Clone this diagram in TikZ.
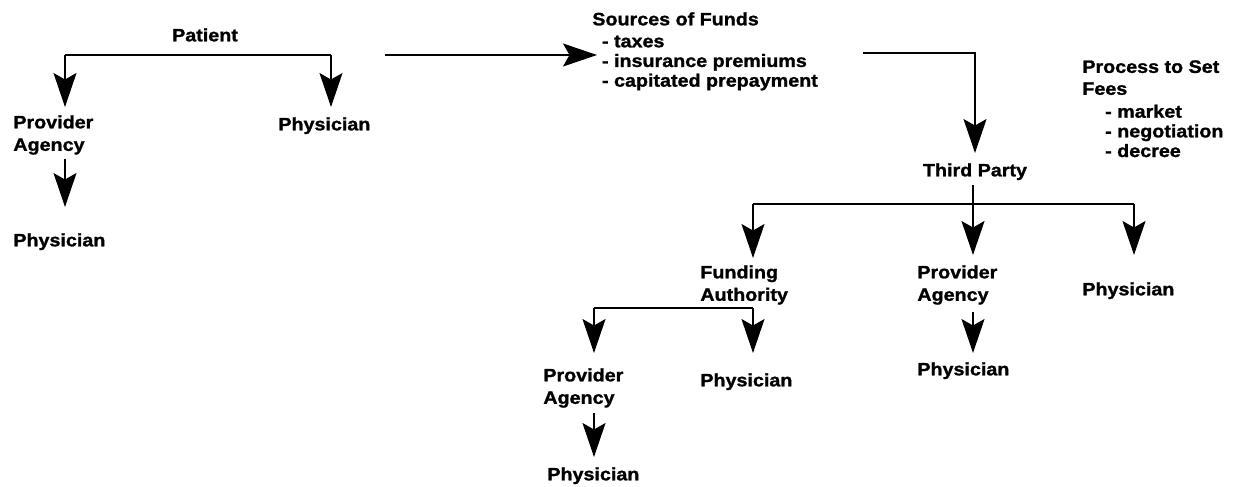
\documentclass[tikz,border=0pt]{standalone}
\usepackage{fontspec}
\newfontfamily\lblfont[FakeStretch=1.1, FakeBold=1.3]{Liberation Sans Bold}
\usetikzlibrary{arrows.meta}
\begin{document}
\begin{tikzpicture}[x=0.02cm, y=-0.02cm,
    every node/.style={font=\lblfont\fontsize{10.2}{12.8}\selectfont, inner sep=0pt, align=left},
    lbl/.style={anchor=north west},
    list/.style={anchor=north west, font=\lblfont\fontsize{10.2}{11.2}\selectfont},
    ln/.style={line width=0.9pt},
    arr/.style={ln, -{Stealth[length=0.68cm, width=0.46cm, inset=0.13cm]}, shorten >=0.2cm}]
    \useasboundingbox (0,0) rectangle (1238,487);
    % Patient
    \node[anchor=north] (patient) at (205,28) {Patient};
    \node[lbl] (pa1) at (13,115) {Provider\\Agency};
    \node[lbl] (ph1) at (13,233) {Physician};
    \node[lbl] (ph2) at (278,117) {Physician};
    \coordinate (b1) at (65,55);
    \coordinate (b2) at (331,55);
    \draw[ln] (b1) -- (b2);
    \draw[arr, shorten >=0.16cm] (b1) -- (b1 |- pa1.north);
    \draw[arr] (b2) -- (b2 |- ph2.north);
    \draw[arr, shorten <=0.08cm, shorten >=0.52cm] (pa1.south -| b1) -- (b1 |- ph1.north);
    % Sources of Funds
    \node[list] (src) at (592,12) {Sources of Funds\\[1.3pt]
        \hspace*{5.5pt}- taxes\\
        \hspace*{5.5pt}- insurance premiums\\
        \hspace*{5.5pt}- capitated prepayment};
    \coordinate (a0) at (385,55);
    \draw[arr, shorten >=-0.1cm] (a0) -- (a0 -| src.west);
    % Process to Set Fees
    \node[list] (fees) at (1082,60) {Process to Set\\[1.3pt]
        Fees\\[1.8pt]
        \hspace*{13pt}- market\\
        \hspace*{13pt}- negotiation\\
        \hspace*{13pt}- decree};
    % Third Party
    \node[anchor=north] (tp) at (975,163) {Third Party};
    \coordinate (c0) at (863,53);
    \draw[arr] (c0) -| (tp.north);
    \node[lbl] (fa) at (700,265) {Funding\\Authority};
    \node[lbl] (pa2) at (917,265) {Provider\\Agency};
    \node[lbl] (ph3) at (1082,282) {Physician};
    \node[lbl] (ph4) at (917,362) {Physician};
    \coordinate (b3l) at (753,204);
    \coordinate (b3m) at (973,204);
    \coordinate (b3r) at (1134,204);
    \draw[ln] (b3l) -- (b3r);
    \draw[ln, shorten <=0.1cm] (tp.south -| b3m) -- (b3m);
    \draw[arr, shorten >=0.14cm] (b3l) -- (b3l |- fa.north);
    \draw[arr] (b3m) -- (b3m |- pa2.north);
    \draw[arr, shorten >=0.54cm] (b3r) -- (b3r |- ph3.north);
    \draw[arr, shorten <=0.14cm, shorten >=0.18cm] (pa2.south -| b3m) -- (b3m |- ph4.north);
    % Funding Authority
    \node[lbl] (pa3) at (543,368) {Provider\\Agency};
    \node[lbl] (ph5) at (700,373) {Physician};
    \node[lbl] (ph6) at (547,467) {Physician};
    \coordinate (b4l) at (594,308);
    \coordinate (b4r) at (753,308);
    \draw[ln] (b4l) -- (b4r);
    \draw[arr, shorten >=0.3cm] (b4l) -- (b4l |- pa3.north);
    \draw[arr, shorten >=0.4cm] (b4r) -- (b4r |- ph5.north);
    \draw[arr, shorten <=0.1cm] (pa3.south -| b4l) -- (b4l |- ph6.north);
\end{tikzpicture}
\end{document}
